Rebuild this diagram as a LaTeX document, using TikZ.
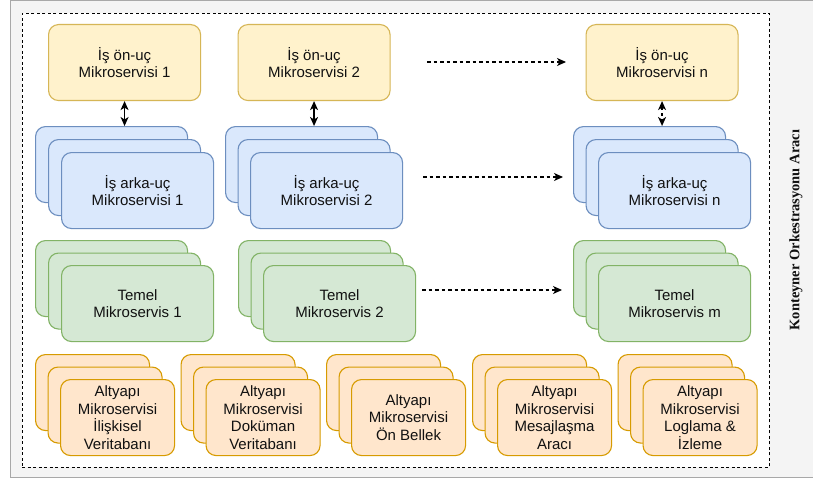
\documentclass[tikz,border=0pt]{standalone}
\usepackage{fontspec}
\setmainfont{Liberation Sans}
\newfontfamily\titleserif{Liberation Serif}
\usetikzlibrary{arrows.meta}
\definecolor{yelF}{HTML}{FFF2CC}\definecolor{yelD}{HTML}{D6B656}
\definecolor{bluF}{HTML}{DAE8FC}\definecolor{bluD}{HTML}{6C8EBF}
\definecolor{grnF}{HTML}{D5E8D4}\definecolor{grnD}{HTML}{82B366}
\definecolor{orgF}{HTML}{FFE6CC}\definecolor{orgD}{HTML}{D79B00}
\definecolor{frameF}{HTML}{F4F4F4}\definecolor{frameD}{HTML}{A8A8A8}
\definecolor{txt}{HTML}{111111}
\begin{document}
\begin{tikzpicture}[x=1pt,y=1pt,
  box/.style={rounded corners=10pt, line width=1.1pt, inner sep=0pt,
    minimum width=152pt, minimum height=76pt, anchor=north west,
    align=center, text=txt, font=\fontsize{15}{17.5}\selectfont},
  yel/.style={box, fill=yelF, draw=yelD},
  blu/.style={box, fill=bluF, draw=bluD},
  grn/.style={box, fill=grnF, draw=grnD},
  org/.style={box, fill=orgF, draw=orgD, minimum width=114pt},
  tip/.tip={Stealth[length=9pt,width=8pt,inset=2.5pt]},
  lnk/.style={line width=1.2pt, tip-tip},
  dlnk/.style={line width=1.2pt, dash pattern=on 3pt off 3pt},
  harrow/.style={line width=1.1pt, dash pattern=on 3.5pt off 3pt, -tip}
]
\useasboundingbox (0,0) rectangle (813,-484);
% outer frame
\fill[frameF] (10,0) rectangle (813,-478);
\draw[frameD, line width=1.4pt] (813,-0.7) -- (10.7,-0.7) -- (10.7,-477.5) -- (813,-477.5);
% container
\node[draw=black, fill=white, line width=0.9pt, dash pattern=on 3pt off 2.5pt,
  minimum width=747pt, minimum height=454pt, inner sep=0pt, anchor=north west]
  (cont) at (22,-13) {};
\node[rotate=90, font=\titleserif\bfseries\fontsize{14.5}{17}\selectfont, text=txt]
  (title) at (796,-230) {Konteyner Orkestrasyonu Aracı};

% front-end row
\node[yel] (y1) at (48,-24) {İş ön-uç\\Mikroservisi 1};
\node[yel] (y2) at (237.5,-24) {İş ön-uç\\Mikroservisi 2};
\node[yel] (yn) at (585.5,-24) {İş ön-uç\\Mikroservisi n};

% back-end row
\node[blu] (b1a) at (35,-126) {};
\node[blu] (b1b) at (48,-139) {};
\node[blu] (b1c) at (61,-152) {İş arka-uç\\Mikroservisi 1};
\node[blu] (b2a) at (225,-126) {};
\node[blu] (b2b) at (237.5,-139) {};
\node[blu] (b2c) at (250,-152) {İş arka-uç\\Mikroservisi 2};
\node[blu] (bna) at (573,-126) {};
\node[blu] (bnb) at (585.5,-139) {};
\node[blu] (bnc) at (598,-152) {İş arka-uç\\Mikroservisi n};

% core row
\node[grn] (g1a) at (35,-240) {};
\node[grn] (g1b) at (48,-252.5) {};
\node[grn] (g1c) at (61,-265) {Temel\\Mikroservis 1};
\node[grn] (g2a) at (238,-240) {};
\node[grn] (g2b) at (250.5,-252.5) {};
\node[grn] (g2c) at (263,-265) {Temel\\Mikroservis 2};
\node[grn] (gna) at (573,-240) {};
\node[grn] (gnb) at (585.5,-252.5) {};
\node[grn] (gnc) at (598,-265) {Temel\\Mikroservis m};

% infrastructure row
\foreach \i/\x/\t in {1/35/{Altyapı\\Mikroservisi\\İlişkisel\\Veritabanı},
                      2/180.5/{Altyapı\\Mikroservisi\\Doküman\\Veritabanı},
                      3/326/{Altyapı\\Mikroservisi\\Ön Bellek},
                      4/472/{Altyapı\\Mikroservisi\\Mesajlaşma\\Aracı},
                      5/617.5/{Altyapı\\Mikroservisi\\Loglama \&\\İzleme}}{
  \node[org] (o\i a) at (\x,-354) {};
  \node[org] (o\i b) at (\x+12.5,-366.5) {};
  \node[org] (o\i c) at (\x+25,-379) {\t};
}

% vertical links
\draw[lnk] (y1.south) -- (y1.south |- b1a.north);
\draw[lnk] (y2.south) -- (y2.south |- b2a.north);
\draw[dlnk, tip-tip] (yn.south) -- (yn.south |- bna.north);

% horizontal dashed arrows
\coordinate (h1s) at (427,-62);  \coordinate (h1e) at (566,-62);
\coordinate (h2s) at (423,-177); \coordinate (h2e) at (563,-177);
\coordinate (h3s) at (422,-290); \coordinate (h3e) at (562,-290);
\draw[harrow] (h1s) -- (h1e);
\draw[harrow] (h2s) -- (h2e);
\draw[harrow] (h3s) -- (h3e);
\end{tikzpicture}
\end{document}
